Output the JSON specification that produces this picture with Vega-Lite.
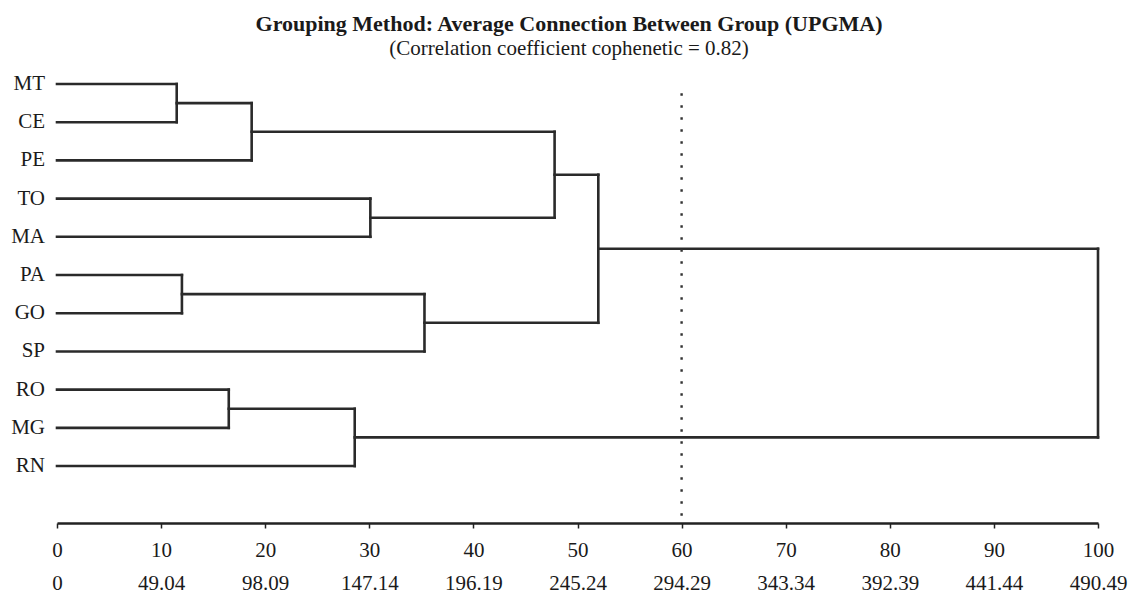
{
  "$schema": "https://vega.github.io/schema/vega-lite/v6.json",
  "autosize": "none",
  "width": 1041,
  "height": 453,
  "padding": {"left": 57, "top": 70, "right": 37, "bottom": 77},
  "background": "white",
  "config": {"view": {"stroke": null}},
  "title": {
    "text": "Grouping Method: Average Connection Between Group (UPGMA)",
    "subtitle": "(Correlation coefficient cophenetic = 0.82)",
    "font": "Liberation Serif",
    "fontSize": 22,
    "fontWeight": "bold",
    "color": "#1a1a1a",
    "subtitleFont": "Liberation Serif",
    "subtitleFontSize": 21,
    "subtitleColor": "#1a1a1a",
    "subtitlePadding": 2,
    "anchor": "middle",
    "frame": "bounds",
    "offset": 10
  },
  "datasets": {
    "segments": [
      {"x": 0, "x2": 11.5, "y": 0, "y2": 0},
      {"x": 0, "x2": 11.5, "y": 1, "y2": 1},
      {"x": 11.5, "x2": 11.5, "y": 0, "y2": 1},
      {"x": 11.5, "x2": 18.7, "y": 0.5, "y2": 0.5},
      {"x": 0, "x2": 18.7, "y": 2, "y2": 2},
      {"x": 18.7, "x2": 18.7, "y": 0.5, "y2": 2},
      {"x": 0, "x2": 30.1, "y": 3, "y2": 3},
      {"x": 0, "x2": 30.1, "y": 4, "y2": 4},
      {"x": 30.1, "x2": 30.1, "y": 3, "y2": 4},
      {"x": 18.7, "x2": 47.8, "y": 1.25, "y2": 1.25},
      {"x": 30.1, "x2": 47.8, "y": 3.5, "y2": 3.5},
      {"x": 47.8, "x2": 47.8, "y": 1.25, "y2": 3.5},
      {"x": 47.8, "x2": 52, "y": 2.375, "y2": 2.375},
      {"x": 0, "x2": 12, "y": 5, "y2": 5},
      {"x": 0, "x2": 12, "y": 6, "y2": 6},
      {"x": 12, "x2": 12, "y": 5, "y2": 6},
      {"x": 12, "x2": 35.3, "y": 5.5, "y2": 5.5},
      {"x": 0, "x2": 35.3, "y": 7, "y2": 7},
      {"x": 35.3, "x2": 35.3, "y": 5.5, "y2": 7},
      {"x": 35.3, "x2": 52, "y": 6.25, "y2": 6.25},
      {"x": 52, "x2": 52, "y": 2.375, "y2": 6.25},
      {"x": 52, "x2": 100, "y": 4.3125, "y2": 4.3125},
      {"x": 0, "x2": 16.5, "y": 8, "y2": 8},
      {"x": 0, "x2": 16.5, "y": 9, "y2": 9},
      {"x": 16.5, "x2": 16.5, "y": 8, "y2": 9},
      {"x": 16.5, "x2": 28.6, "y": 8.5, "y2": 8.5},
      {"x": 0, "x2": 28.6, "y": 10, "y2": 10},
      {"x": 28.6, "x2": 28.6, "y": 8.5, "y2": 10},
      {"x": 28.6, "x2": 100, "y": 9.25, "y2": 9.25},
      {"x": 100, "x2": 100, "y": 4.3125, "y2": 9.25}
    ],
    "cut": [{"cut": 60, "top": 0.24, "bottom": 11.49}],
    "leaves": [
      {"name": "MT", "pos": 0},
      {"name": "CE", "pos": 1},
      {"name": "PE", "pos": 2},
      {"name": "TO", "pos": 3},
      {"name": "MA", "pos": 4},
      {"name": "PA", "pos": 5},
      {"name": "GO", "pos": 6},
      {"name": "SP", "pos": 7},
      {"name": "RO", "pos": 8},
      {"name": "MG", "pos": 9},
      {"name": "RN", "pos": 10}
    ]
  },
  "layer": [
    {
      "data": {"name": "segments"},
      "mark": {"type": "rule", "color": "#2a2a2a", "strokeWidth": 2.6, "strokeCap": "square"},
      "encoding": {
        "x": {
          "field": "x",
          "type": "quantitative",
          "scale": {"domain": [0, 100], "nice": false, "zero": false},
          "axis": {
            "title": null,
            "values": [0, 10, 20, 30, 40, 50, 60, 70, 80, 90, 100],
            "grid": false,
            "domainColor": "#222",
            "domainWidth": 2.6,
            "tickColor": "#222",
            "tickWidth": 1.5,
            "tickSize": 5,
            "labelFont": "Liberation Serif",
            "labelFontSize": 21,
            "labelColor": "#1a1a1a",
            "labelPadding": 11,
            "labelLineHeight": 33,
            "labelFlush": false,
            "labelOverlap": false,
            "labelExpr": "[datum.label, ['0','49.04','98.09','147.14','196.19','245.24','294.29','343.34','392.39','441.44','490.49'][round(datum.value/10)]]"
          }
        },
        "x2": {"field": "x2"},
        "y": {
          "field": "y",
          "type": "quantitative",
          "scale": {"domain": [-0.366, 11.49], "nice": false, "zero": false, "reverse": true},
          "axis": null
        },
        "y2": {"field": "y2"}
      }
    },
    {
      "data": {"name": "cut"},
      "mark": {"type": "rule", "color": "#333", "strokeWidth": 2.4, "strokeDash": [2.5, 9.5]},
      "encoding": {
        "x": {"field": "cut", "type": "quantitative"},
        "y": {"field": "top", "type": "quantitative"},
        "y2": {"field": "bottom"}
      }
    },
    {
      "data": {"name": "leaves"},
      "mark": {"type": "text", "font": "Liberation Serif", "fontSize": 21, "color": "#1a1a1a", "align": "right", "baseline": "middle", "dx": -12},
      "encoding": {
        "x": {"datum": 0, "type": "quantitative"},
        "y": {"field": "pos", "type": "quantitative"},
        "text": {"field": "name"}
      }
    }
  ]
}
